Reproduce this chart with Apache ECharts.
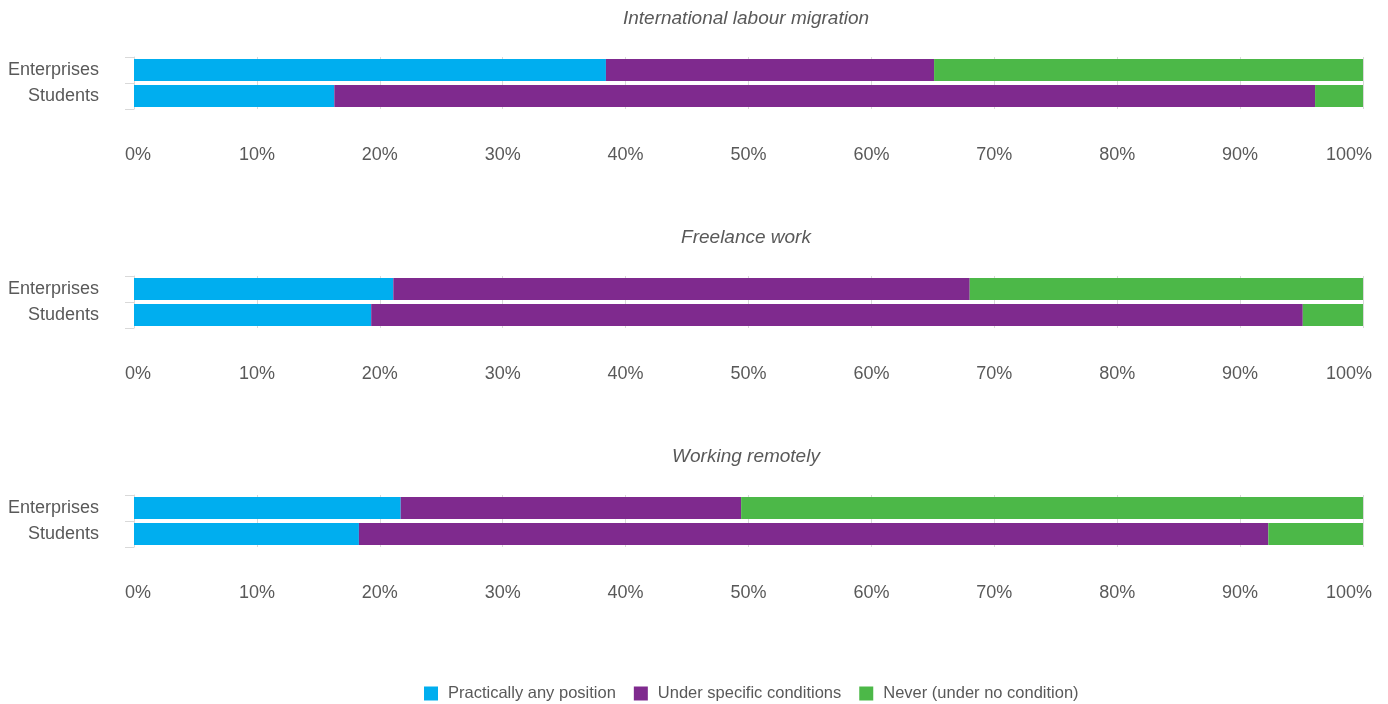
<!DOCTYPE html>
<html>
<head>
<meta charset="utf-8">
<script src="https://cdn.jsdelivr.net/npm/echarts@6/dist/echarts.min.js"></script>
<style>
  html, body { margin: 0; padding: 0; background: #fff; }
  #chartmain { width: 1388px; height: 704px; }
</style>
</head>
<body>
<div id="chartmain"></div>
<script>
// data
const categories = ['Enterprises', 'Students'];
const panelTitles = ['International labour migration', 'Freelance work', 'Working remotely'];
const seriesNames = ['Practically any position', 'Under specific conditions', 'Never (under no condition)'];
const anyPosition = [[38.4, 16.3], [21.1, 19.3], [21.7, 18.3]];
const specificConditions = [[26.7, 79.8], [46.9, 75.8], [27.7, 74.0]];
const neverValues = [[34.9, 3.9], [32.0, 4.9], [50.6, 7.7]];
const xTicks = { min: 0, max: 100, interval: 10 };

var chart = echarts.init(document.getElementById('chartmain'));

const colors = ['#00aeef', '#7f2a8e', '#4cb848'];
const font = 'Liberation Sans, Arial, sans-serif';
const gridTops = [57, 276, 495];

var grids = [], xAxes = [], yAxes = [], titles = [], series = [];
const allValues = [anyPosition, specificConditions, neverValues];

gridTops.forEach(function (top, i) {
    grids.push({ left: 134, right: 25, top: top, height: 52 });
    titles.push({
        text: panelTitles[i],
        left: 741, textAlign: 'center',
        top: top - 53,
        textStyle: { fontFamily: font, fontSize: 19, fontStyle: 'italic', fontWeight: 'normal', color: '#595959' }
    });
    xAxes.push({
        type: 'value', gridIndex: i,
        min: xTicks.min, max: xTicks.max, interval: xTicks.interval,
        axisLine: { show: false },
        axisTick: { show: false },
        axisLabel: {
            margin: 37, fontFamily: font, fontSize: 18, color: '#595959',
            // first and last label are nudged inside like in the original
            formatter: function (v) {
                if (v === xTicks.max) return '{last|' + v + '%}';
                if (v === xTicks.min) return '{first|' + v + '%}';
                return v + '%';
            },
            rich: {
                last: { fontFamily: font, fontSize: 18, color: '#595959', padding: [0, 28, 0, 0] },
                first: { fontFamily: font, fontSize: 18, color: '#595959', padding: [0, 0, 0, 8] }
            }
        },
        splitLine: { show: true, lineStyle: { color: '#d9d9d9', width: 1 } }
    });
    yAxes.push({
        type: 'category', gridIndex: i, data: categories, inverse: true,
        axisLine: { show: true, lineStyle: { color: '#d9d9d9' } },
        axisTick: { show: true, length: 9, lineStyle: { color: '#d9d9d9' } },
        axisLabel: { margin: 35, fontFamily: font, fontSize: 18, color: '#595959' }
    });
    // three stacked pieces per panel
    seriesNames.forEach(function (name, k) {
        series.push({
            name: name, type: 'bar', stack: 'p' + i,
            xAxisIndex: i, yAxisIndex: i,
            barCategoryGap: '16%',
            itemStyle: { color: colors[k] },
            data: allValues[k][i]
        });
    });
});

option = {
    animation: false,
    color: colors,
    title: titles,
    legend: {
        top: 680, left: 419,
        itemWidth: 14, itemHeight: 14, itemGap: 18,
        icon: 'rect',
        data: seriesNames,
        textStyle: { fontFamily: font, fontSize: 16.5, color: '#595959', padding: [0, 0, 0, 5] }
    },
    grid: grids,
    xAxis: xAxes,
    yAxis: yAxes,
    series: series
};
chart.setOption(option);
</script>
</body>
</html>
